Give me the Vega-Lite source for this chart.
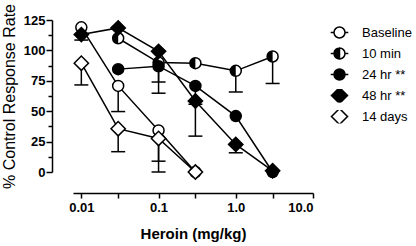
{
  "$schema": "https://vega.github.io/schema/vega-lite/v6.json",
  "width": 240,
  "height": 152,
  "autosize": {"type": "none"},
  "padding": {"left": 73, "top": 20, "right": 103, "bottom": 74},
  "background": "white",
  "config": {
    "view": {"stroke": null},
    "font": "Liberation Sans",
    "axis": {"domainColor": "black", "tickColor": "black", "domainWidth": 1.5, "tickWidth": 1.5, "labelColor": "black", "titleColor": "black", "grid": false}
  },
  "data": {
    "values": [
      {"series": "Baseline", "dose": 0.01, "value": 119, "low": null},
      {"series": "Baseline", "dose": 0.03, "value": 70.8, "low": 49.7},
      {"series": "Baseline", "dose": 0.1, "value": 34.2, "low": 8.9},
      {"series": "Baseline", "dose": 0.3, "value": 0, "low": null},
      {"series": "10 min", "dose": 0.03, "value": 110, "low": null},
      {"series": "10 min", "dose": 0.1, "value": 90, "low": 74},
      {"series": "10 min", "dose": 0.3, "value": 89.5, "low": null},
      {"series": "10 min", "dose": 1, "value": 83.2, "low": 65.8},
      {"series": "10 min", "dose": 3, "value": 95, "low": 72.8},
      {"series": "24 hr **", "dose": 0.03, "value": 84.6, "low": null},
      {"series": "24 hr **", "dose": 0.1, "value": 87, "low": 64.8},
      {"series": "24 hr **", "dose": 0.3, "value": 70.8, "low": 55.7},
      {"series": "24 hr **", "dose": 1, "value": 46, "low": null},
      {"series": "24 hr **", "dose": 3, "value": 0, "low": null},
      {"series": "48 hr **", "dose": 0.01, "value": 113, "low": 108.5},
      {"series": "48 hr **", "dose": 0.03, "value": 118.5, "low": null},
      {"series": "48 hr **", "dose": 0.1, "value": 99.2, "low": null},
      {"series": "48 hr **", "dose": 0.3, "value": 58.4, "low": 29.5},
      {"series": "48 hr **", "dose": 1, "value": 22.7, "low": 15.8},
      {"series": "48 hr **", "dose": 3, "value": 1, "low": null},
      {"series": "14 days", "dose": 0.01, "value": 89.5, "low": 71.6},
      {"series": "14 days", "dose": 0.03, "value": 35.6, "low": 16.7},
      {"series": "14 days", "dose": 0.1, "value": 27.6, "low": 0},
      {"series": "14 days", "dose": 0.3, "value": 0, "low": null}
    ]
  },
  "encoding": {
    "x": {
      "field": "dose", "type": "quantitative",
      "scale": {"type": "log", "domain": [0.0078, 10], "nice": false},
      "axis": {
        "offset": 21,
        "values": [0.01, 0.03, 0.1, 0.3, 1, 3, 10],
        "labelExpr": "datum.value === 0.01 ? '0.01' : datum.value === 0.1 ? '0.1' : datum.value === 1 ? '1.0' : datum.value === 10 ? '10.0' : ''",
        "tickSize": 5,
        "labelFont": "Liberation Sans", "labelFontSize": 13, "labelFontWeight": "bold", "labelPadding": 3,
        "title": "Heroin (mg/kg)", "titleFont": "Liberation Sans", "titleFontSize": 15, "titleFontWeight": "bold", "titlePadding": 12
      }
    },
    "y": {
      "field": "value", "type": "quantitative",
      "scale": {"domain": [0, 125], "nice": false, "zero": false},
      "axis": {
        "offset": 21,
        "values": [0, 12.5, 25, 37.5, 50, 62.5, 75, 87.5, 100, 112.5, 125],
        "labelExpr": "datum.value % 25 === 0 ? datum.label : ''",
        "tickSize": {"condition": {"test": "datum.value % 25 === 0", "value": 6}, "value": 4},
        "labelFont": "Liberation Sans", "labelFontSize": 13, "labelFontWeight": "bold", "labelPadding": 1,
        "title": "% Control Response Rate", "titleFont": "Liberation Sans", "titleFontSize": 16, "titleFontWeight": "normal", "titlePadding": 6
      }
    }
  },
  "layer": [
    {
      "transform": [{"filter": "datum.low != null"}],
      "mark": {"type": "rule", "color": "black", "strokeWidth": 1.5},
      "encoding": {"y2": {"field": "low"}}
    },
    {
      "transform": [{"filter": "datum.low != null"}],
      "mark": {"type": "tick", "orient": "horizontal", "color": "black", "size": 14, "thickness": 1.5, "opacity": 1},
      "encoding": {"y": {
        "field": "low", "type": "quantitative",
        "scale": {"domain": [0, 125], "nice": false, "zero": false},
        "axis": {
          "offset": 21,
          "values": [0, 12.5, 25, 37.5, 50, 62.5, 75, 87.5, 100, 112.5, 125],
          "labelExpr": "datum.value % 25 === 0 ? datum.label : ''",
          "tickSize": {"condition": {"test": "datum.value % 25 === 0", "value": 6}, "value": 4},
          "labelFont": "Liberation Sans", "labelFontSize": 13, "labelFontWeight": "bold", "labelPadding": 1,
          "title": "% Control Response Rate", "titleFont": "Liberation Sans", "titleFontSize": 16, "titleFontWeight": "normal", "titlePadding": 6
        }
      }}
    },
    {
      "mark": {"type": "line", "color": "black", "strokeWidth": 1.5},
      "encoding": {"detail": {"field": "series"}}
    },
    {
      "mark": {"type": "point", "filled": true, "stroke": "black", "strokeWidth": 1.5, "size": 121, "opacity": 1},
      "encoding": {
        "shape": {"field": "series", "type": "nominal", "legend": null,
          "scale": {"domain": ["Baseline", "10 min", "24 hr **", "48 hr **", "14 days"],
                    "range": ["circle", "circle", "circle", "M-1.3,0L0,-1.3L1.3,0L0,1.3Z", "M-1.3,0L0,-1.3L1.3,0L0,1.3Z"]}},
        "fill": {"field": "series", "type": "nominal", "legend": null,
          "scale": {"domain": ["Baseline", "10 min", "24 hr **", "48 hr **", "14 days"],
                    "range": ["white", "white", "black", "black", "white"]}}
      }
    },
    {
      "transform": [{"filter": "datum.series === '10 min'"}],
      "mark": {"type": "point", "filled": true, "fill": "black", "strokeWidth": 0, "size": 121, "opacity": 1, "shape": "M0,-1A1,1 0 0,0 0,1Z"}
    },
    {
      "transform": [{"filter": "false"}],
      "mark": {"type": "point", "filled": true, "stroke": "black", "strokeWidth": 1.5, "size": 121, "opacity": 1},
      "encoding": {
        "shape": {"field": "series", "type": "nominal",
          "scale": {"domain": ["Baseline", "10 min", "24 hr **", "48 hr **", "14 days"],
                    "range": [
                      "M-1.6,0H-1M1,0H1.6M1,0A1,1 0 0,1 -1,0A1,1 0 0,1 1,0Z",
                      "M-1.6,0H-1M1,0H1.6M0,-1A1,1 0 0,1 0,1A1,1 0 0,1 0,-1ZM0,-1L0,1A1,1 0 0,0 0,-1Z",
                      "M-1.6,0H-1M1,0H1.6M1,0A1,1 0 0,1 -1,0A1,1 0 0,1 1,0Z",
                      "M-1.6,0H1.6M-1.45,0L0,-1.45L1.45,0L0,1.45Z",
                      "M-1.6,0H-1.45M1.45,0H1.6M-1.45,0L0,-1.45L1.45,0L0,1.45Z"
                    ]},
          "legend": {"title": null, "orient": "none", "legendX": 256, "legendY": 6, "symbolSize": 121, "symbolOffset": 4, "clipHeight": 13, "labelFontSize": 13, "labelFont": "Liberation Sans", "labelColor": "black", "labelOffset": 16, "rowPadding": 7, "padding": 0,
            "encode": {"symbols": {"update": {"stroke": {"value": "black"}, "strokeWidth": {"value": 1.5}, "opacity": {"value": 1}}}}}},
        "fill": {"field": "series", "type": "nominal",
          "scale": {"domain": ["Baseline", "10 min", "24 hr **", "48 hr **", "14 days"],
                    "range": ["white", "black", "black", "black", "white"]},
          "legend": {"title": null, "orient": "none", "legendX": 256, "legendY": 6, "symbolSize": 121, "symbolOffset": 4, "clipHeight": 13, "labelFontSize": 13, "labelFont": "Liberation Sans", "labelColor": "black", "labelOffset": 16, "rowPadding": 7, "padding": 0,
            "encode": {"symbols": {"update": {"stroke": {"value": "black"}, "strokeWidth": {"value": 1.5}, "opacity": {"value": 1}}}}}}
      }
    }
  ],
  "resolve": {"scale": {"shape": "independent", "fill": "independent"}}
}
